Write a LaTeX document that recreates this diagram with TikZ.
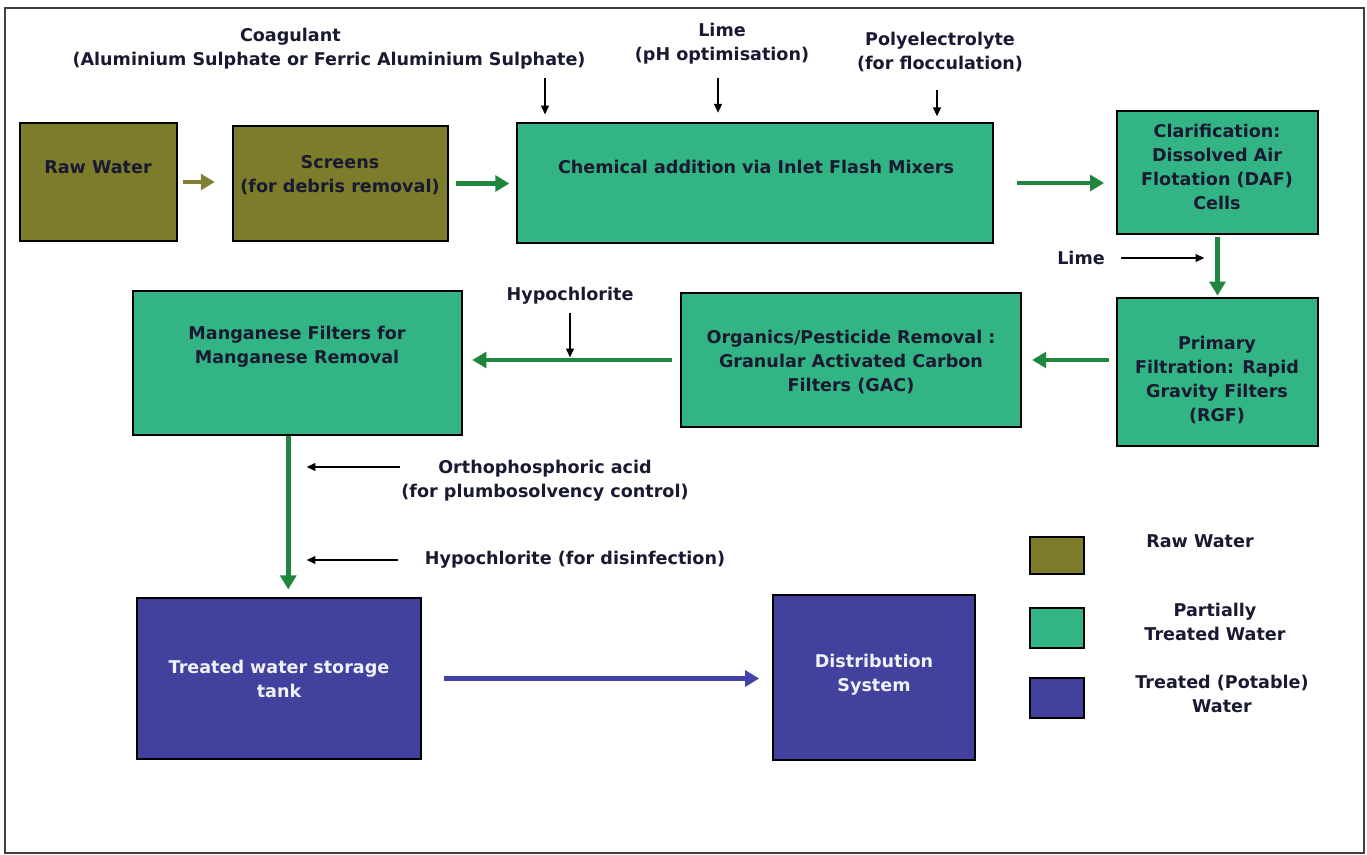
\documentclass[tikz,border=0pt]{standalone}
\usepackage{fontspec}
\setmainfont{DejaVu Sans}
\usetikzlibrary{arrows.meta,fit,calc}

\definecolor{rawolive}{RGB}{124,124,42}
\definecolor{partgreen}{RGB}{50,180,132}
\definecolor{potableblue}{RGB}{66,66,158}
\definecolor{flowgreen}{RGB}{32,134,62}
\definecolor{flowolive}{RGB}{128,128,52}
\definecolor{flowblue}{RGB}{68,68,168}
\definecolor{labelink}{RGB}{25,25,50}

\tikzstyle{raw_box} = [rectangle, inner sep=0pt, line width=0.7pt, draw=black, fill=rawolive]
\tikzstyle{part_box} = [rectangle, inner sep=0pt, line width=0.7pt, draw=black, fill=partgreen]
\tikzstyle{potable_box} = [rectangle, inner sep=0pt, line width=0.7pt, draw=black, fill=potableblue]
\tikzstyle{box_text} = [text=labelink, align=center, font=\bfseries\fontsize{10}{13.6}\selectfont]
\tikzstyle{potable_text} = [box_text, text=white!92!potableblue]
\tikzstyle{flow} = [line width=2.8pt, draw=flowgreen, -{Triangle[length=8pt,width=9pt]}]
\tikzstyle{dose} = [line width=0.6pt, draw=black, -{Triangle[length=5pt,width=4.5pt]}]

\begin{document}
\begin{tikzpicture}[x=0.02cm, y=-0.02cm]
        \useasboundingbox (0,0) rectangle (1367,855);
        \draw [line width=0.8pt, black!75] (5,8) rectangle (1364,853);

        % treatment stages
        \node (raw_water) [raw_box, fit={(20,123) (177,241)}] {};
        \node (screens) [raw_box, fit={(233,126) (448,241)}] {};
        \node (flash_mixers) [part_box, fit={(517,123) (993,243)}] {};
        \node (daf_cells) [part_box, fit={(1117,111) (1318,234)}] {};
        \node (rgf) [part_box, fit={(1117,298) (1318,446)}] {};
        \node (gac) [part_box, fit={(681,293) (1021,427)}] {};
        \node (manganese) [part_box, fit={(133,291) (462,435)}] {};
        \node (storage_tank) [potable_box, fit={(137,598) (421,759)}] {};
        \node (distribution) [potable_box, fit={(773,595) (975,760)}] {};

        \node (raw_water_t) [box_text] at (98,167) {Raw Water};
        \node (screens_t) [box_text] at (340,175) {Screens\\(for debris removal)};
        \node (flash_mixers_t) [box_text] at (756,167) {Chemical addition via Inlet Flash Mixers};
        \node (daf_cells_t) [box_text] at (1217,167) {Clarification:\\Dissolved Air\\Flotation (DAF)\\Cells};
        \node (rgf_t) [box_text] at (1217,380) {Primary\\Filtration: Rapid\\Gravity Filters\\(RGF)};
        \node (gac_t) [box_text] at (851,362) {Organics/Pesticide Removal :\\Granular Activated Carbon\\Filters (GAC)};
        \node (manganese_t) [box_text] at (297,347) {Manganese Filters for\\Manganese Removal};
        \node (storage_tank_t) [potable_text] at (279,679) {Treated water storage\\tank};
        \node (distribution_t) [potable_text] at (874,675) {Distribution\\System};

        % chemicals dosed
        \node (coagulant) [box_text] at (329,49) {Coagulant\hspace*{44pt}\\(Aluminium Sulphate or Ferric Aluminium Sulphate)};
        \node (lime_ph) [box_text] at (722,44) {Lime\\(pH optimisation)};
        \node (polyelectrolyte) [box_text] at (940,52) {Polyelectrolyte\\(for flocculation)};
        \node (lime_rgf) [box_text] at (1081,258) {Lime};
        \node (hypo_mn) [box_text] at (570,296) {Hypochlorite};
        \node (orthophos) [box_text] at (545,481) {Orthophosphoric acid\\(for plumbosolvency control)};
        \node (hypo_dis) [box_text] at (575,560) {Hypochlorite (for disinfection)};

        \coordinate (coag_in) at (545,78);
        \coordinate (lime_in) at (718,78);
        \coordinate (poly_in) at (937,90);
        \coordinate (ortho_in) at (400,467);
        \coordinate (mn_drop) at ($(manganese.south)!0.5!(storage_tank.north)$);

        \draw [flow, draw=flowolive, shorten <=3pt, shorten >=10pt] (raw_water.east) -- (raw_water.east -| screens.west);
        \draw [flow, shorten <=4pt, shorten >=4pt] (screens.east) -- (screens.east -| flash_mixers.west);
        \draw [flow, shorten <=13.5pt, shorten >=7pt] (flash_mixers.east) -- (flash_mixers.east -| daf_cells.west);
        \draw [flow, shorten <=1.5pt, shorten >=1pt] (daf_cells.south) -- (rgf.north);
        \draw [flow, shorten <=4pt, shorten >=6pt] (rgf.west |- gac.east) -- (gac.east);
        \draw [flow, shorten <=4.5pt, shorten >=5.5pt] (gac.west) -- (gac.west -| manganese.east);
        \draw [flow, shorten >=4.5pt] (mn_drop |- manganese.south) -- (mn_drop |- storage_tank.north);
        \draw [flow, draw=flowblue, line width=3.2pt, shorten <=13pt, shorten >=7.5pt] (storage_tank.east) -- (storage_tank.east -| distribution.west);

        \draw [dose, shorten >=4.5pt] (coag_in) -- (coag_in |- flash_mixers.north);
        \draw [dose, shorten >=5.5pt] (lime_in) -- (lime_in |- flash_mixers.north);
        \draw [dose, shorten >=3.5pt] (poly_in) -- (poly_in |- flash_mixers.north);
        \draw [dose, shorten <=6pt, shorten >=7.5pt] (lime_rgf.east) -- (lime_rgf.east -| daf_cells.south);
        \draw [dose, shorten <=1pt, shorten >=1.5pt] (hypo_mn.south) -- (hypo_mn.south |- gac.west);
        \draw [dose, shorten >=10.5pt] (ortho_in) -- (ortho_in -| mn_drop);
        \draw [dose, shorten <=12pt, shorten >=10.5pt] (hypo_dis.west) -- (hypo_dis.west -| mn_drop);

        % legend
        \node (legend_raw) [raw_box, fit={(1030,537) (1084,574)}] {};
        \node (legend_part) [part_box, fit={(1030,608) (1084,648)}] {};
        \node (legend_potable) [potable_box, fit={(1030,678) (1084,718)}] {};
        \node (legend_raw_t) [box_text] at (1200,541) {Raw Water};
        \node (legend_part_t) [box_text] at (1215,622) {Partially\\Treated Water};
        \node (legend_potable_t) [box_text] at (1222,694) {Treated (Potable)\\Water};
\end{tikzpicture}
\end{document}
